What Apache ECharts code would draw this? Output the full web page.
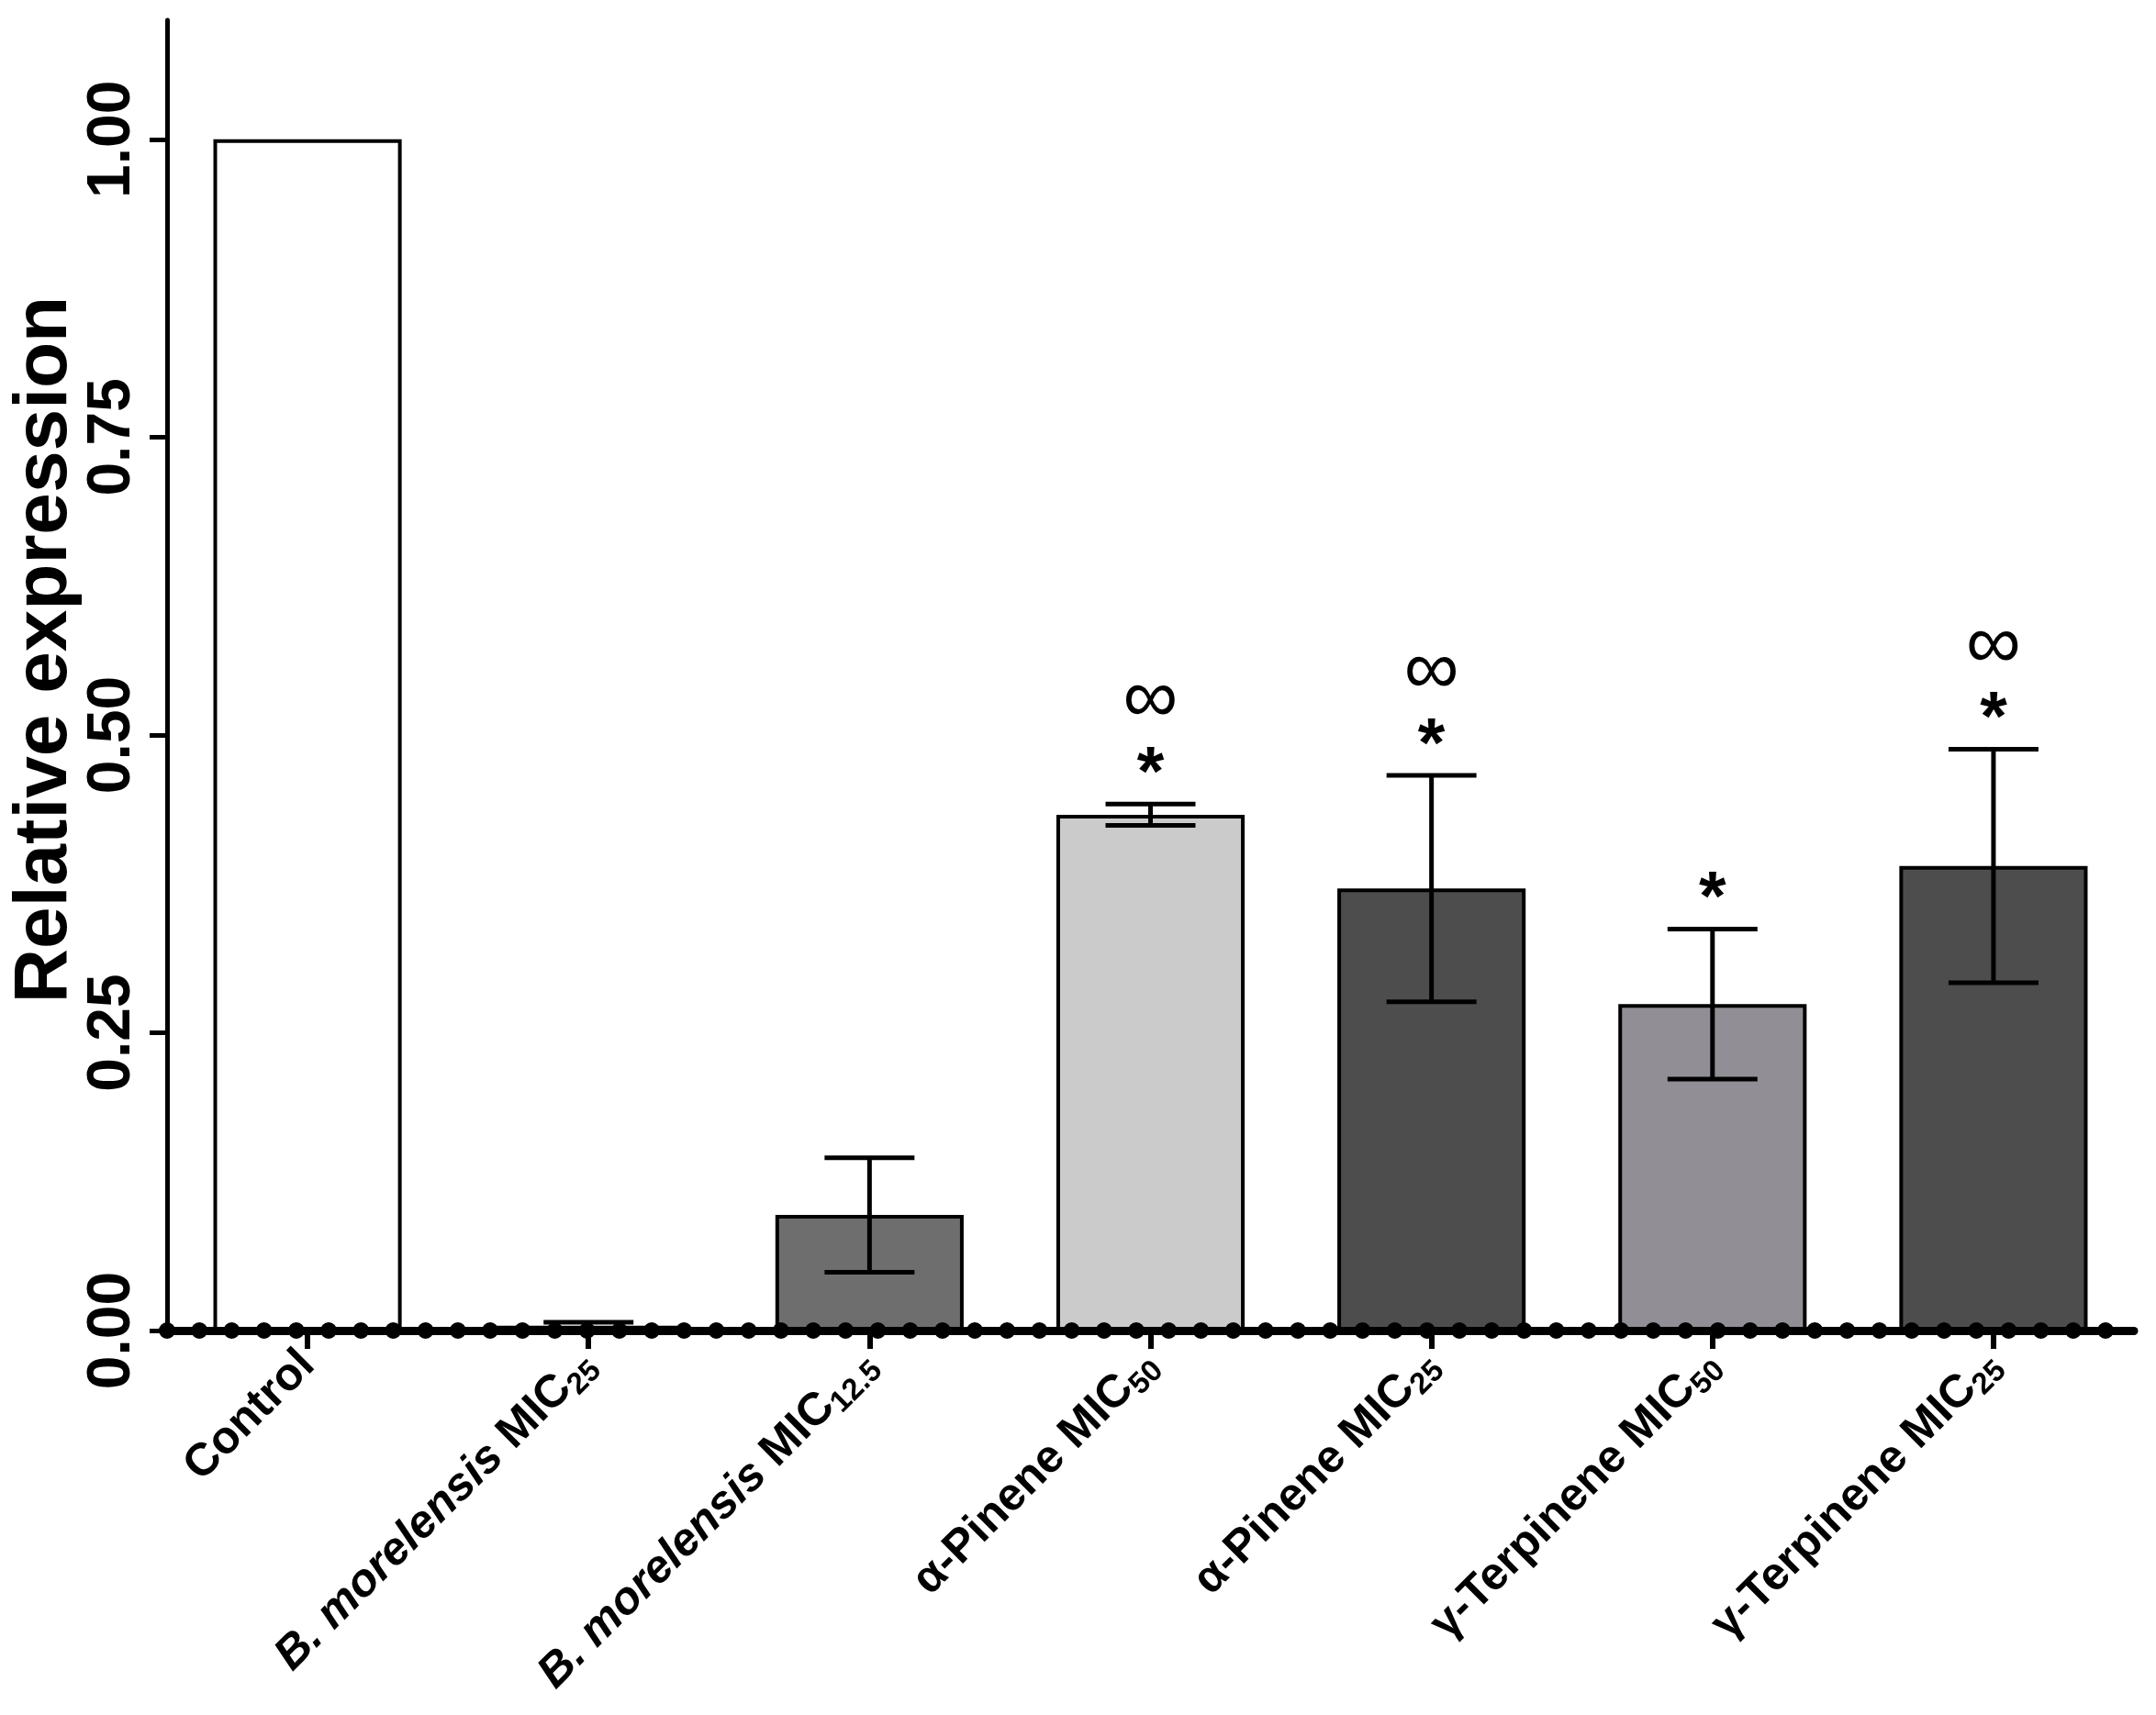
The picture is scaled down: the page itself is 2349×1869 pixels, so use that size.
<!DOCTYPE html>
<html>
<head>
<meta charset="utf-8">
<title>Relative expression</title>
<script src="https://cdn.jsdelivr.net/npm/echarts@6/dist/echarts.min.js"></script>
<style>
html,body{margin:0;padding:0;background:#fff;}
#chart{width:2349px;height:1869px;}
</style>
</head>
<body>
<div id="chart"></div>
<script>
/* data */
var categories = ['Control','B. morelensis MIC25','B. morelensis MIC12.5','α-Pinene MIC50','α-Pinene MIC25','γ-Terpinene MIC50','γ-Terpinene MIC25'];
var means = [1.00, 0.004, 0.097, 0.433, 0.371, 0.274, 0.390];
var errors = [0, 0.003, 0.048, 0.009, 0.095, 0.063, 0.098];
var barColors = ['#ffffff','#4d4d4d','#6e6e6e','#cbcbcb','#4d4d4d','#918f95','#4d4d4d'];
var starMarks = [0,0,0,1,1,1,1];
var infMarks = [0,0,0,1,1,0,1];
var yTicks = [0, 0.25, 0.5, 0.75, 1.0];

var FONT = 'Arial, "Liberation Sans", Helvetica, sans-serif';

/* x label: italic species name, subscript MIC number */
function labelText(name){
    var m = name.match(/^(B\. morelensis )?(.*MIC)([\d.]+)$/);
    if(!m) return '{n|' + name + '}';
    return (m[1] ? '{i|' + m[1] + '}' : '') + '{n|' + m[2] + '}{s|' + m[3] + '}';
}

var barData = means.map(function(v, i){
    return {value: v, itemStyle: {color: barColors[i]}};
});
var errData = means.map(function(v, i){
    return [i, v - errors[i], v + errors[i], errors[i], starMarks[i], infMarks[i]];
});

var option = {
    backgroundColor: '#fff',
    animation: false,
    grid: {
        left: 182,
        right: 24,
        top: 22,
        bottom: 419,
        containLabel: false,
        outerBoundsMode: 'none'
    },
    xAxis: [
        {
            type: 'category',
            data: categories,
            position: 'bottom',
            z: 10,
            axisLine: {
                show: true,
                lineStyle: {color: '#000', width: 9}
            },
            axisTick: {
                show: true,
                alignWithLabel: true,
                length: 20,
                lineStyle: {color: '#000', width: 6}
            },
            splitLine: {show: false},
            axisLabel: {
                interval: 0,
                rotate: 45,
                margin: 30,
                color: '#000',
                formatter: labelText,
                rich: {
                    n: {fontFamily: FONT, fontWeight: 'bold', fontSize: 50, lineHeight: 58, color: '#000'},
                    i: {fontFamily: FONT, fontWeight: 'bold', fontStyle: 'italic', fontSize: 50, lineHeight: 58, color: '#000'},
                    s: {fontFamily: FONT, fontWeight: 'bold', fontSize: 33, lineHeight: 33, verticalAlign: 'bottom', color: '#000'}
                }
            }
        },
        {
            // the row of dots sitting on the baseline
            type: 'category',
            data: categories,
            position: 'bottom',
            offset: 0,
            z: 11,
            axisLine: {
                show: true,
                lineStyle: {color: '#000', width: 18, type: [0.1, 35.1], cap: 'round'}
            },
            axisTick: {show: false},
            axisLabel: {show: false},
            splitLine: {show: false}
        }
    ],
    yAxis: {
        type: 'value',
        min: 0,
        max: 1.1,
        interval: 0.25,
        name: 'Relative expression',
        nameLocation: 'middle',
        nameRotate: 90,
        nameGap: 92,
        nameMoveOverlap: false,
        nameTextStyle: {
            fontFamily: FONT,
            fontWeight: 'bold',
            fontSize: 82,
            color: '#000',
            padding: [0, 0, 0, 56]
        },
        axisLine: {
            show: true,
            lineStyle: {color: '#000', width: 5}
        },
        axisTick: {
            show: true,
            length: 19,
            customValues: yTicks,
            lineStyle: {color: '#000', width: 5}
        },
        splitLine: {show: false},
        axisLabel: {
            rotate: 90,
            margin: 26,
            customValues: yTicks,
            fontFamily: FONT,
            fontWeight: 'bold',
            fontSize: 66,
            color: '#000',
            formatter: function(v){ return v.toFixed(2); }
        }
    },
    series: [
        {
            type: 'bar',
            data: barData,
            barWidth: '67%',
            itemStyle: {borderColor: '#000', borderWidth: 4},
            z: 2
        },
        {
            type: 'custom',
            data: errData,
            z: 5,
            renderItem: function(params, api){
                var i = api.value(0);
                var lo = api.coord([i, api.value(1)]);
                var hi = api.coord([i, api.value(2)]);
                var half = api.size([1, 0])[0] * 0.16;
                var children = [];
                if(api.value(3) > 0){
                    var ls = {stroke: '#000', lineWidth: 5};
                    children.push({type: 'line', shape: {x1: hi[0], y1: hi[1], x2: lo[0], y2: lo[1]}, style: ls});
                    children.push({type: 'line', shape: {x1: hi[0]-half, y1: hi[1], x2: hi[0]+half, y2: hi[1]}, style: ls});
                    children.push({type: 'line', shape: {x1: lo[0]-half, y1: lo[1], x2: lo[0]+half, y2: lo[1]}, style: ls});
                }
                if(api.value(4)){
                    children.push({type: 'text', x: hi[0], y: hi[1] - 31, style: {
                        text: '*', font: 'bold 76px ' + FONT, fill: '#000',
                        textAlign: 'center', textVerticalAlign: 'middle'
                    }});
                }
                if(api.value(5)){
                    children.push({type: 'text', x: hi[0], y: hi[1] - 112, style: {
                        text: '∞', font: '84px ' + FONT, fill: '#000',
                        textAlign: 'center', textVerticalAlign: 'middle'
                    }});
                }
                return {type: 'group', children: children};
            }
        }
    ]
};

var myChart = echarts.init(document.getElementById('chart'));
myChart.setOption(option);
</script>
</body>
</html>
